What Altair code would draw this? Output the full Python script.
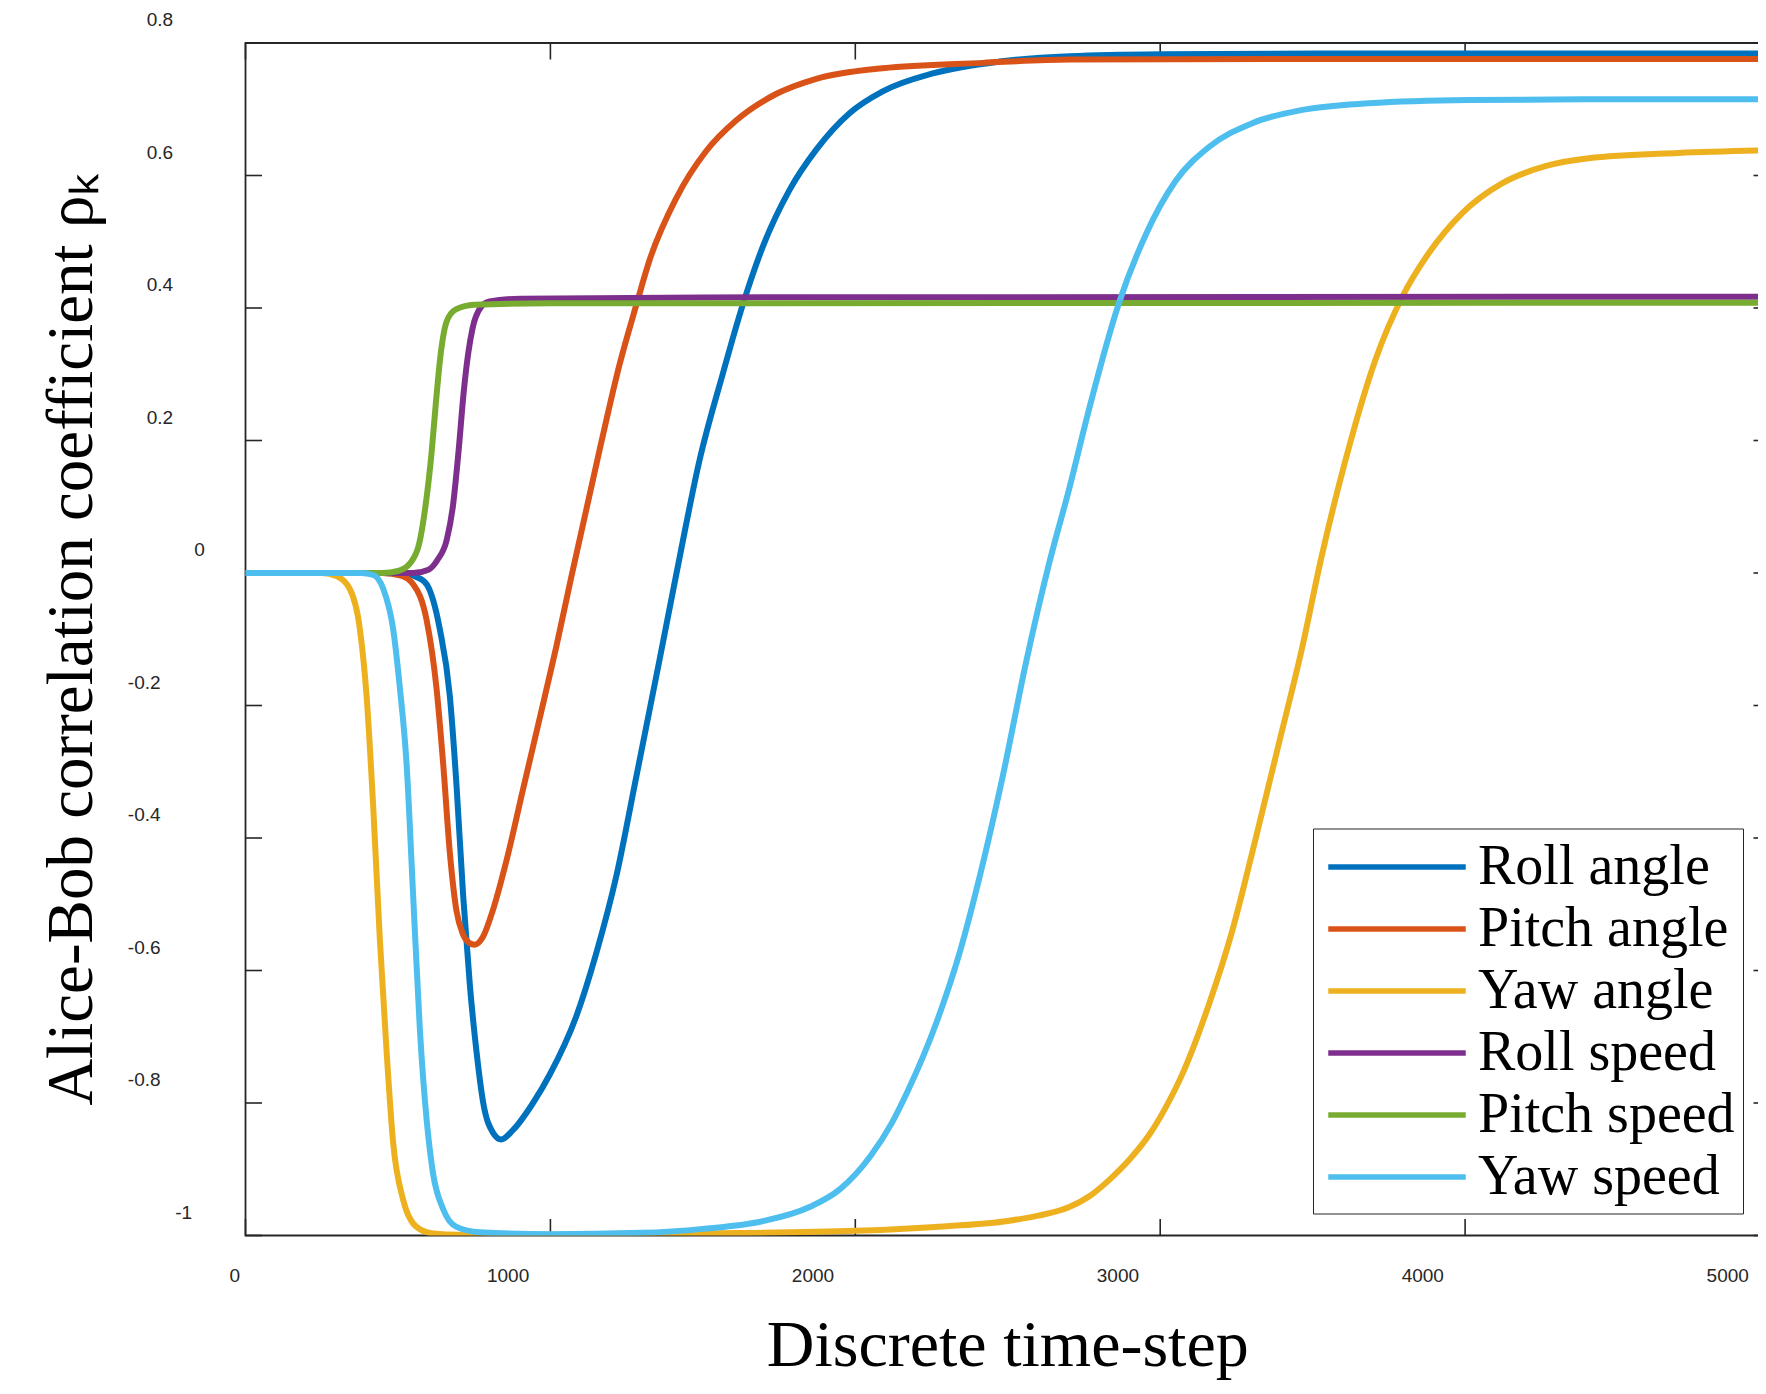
import altair as alt
import pandas as pd

series_names = ["Roll angle", "Pitch angle", "Yaw angle", "Roll speed", "Pitch speed", "Yaw speed"]
series_colors = ["#0072BD", "#D95319", "#EDB120", "#7E2F8E", "#77AC30", "#4DBEEE"]

roll_angle_x = [0, 450, 530, 561, 594, 637, 670, 692, 714, 736, 758, 779, 812, 839, 877, 943, 998,
                1085, 1151, 1216, 1282, 1358, 1418, 1489, 1565, 1631, 1697, 1784, 1872, 1981, 2090,
                2254, 2473, 2702, 3000, 3500, 4000, 5000]
roll_angle_y = [0, 0, -0.002, -0.006, -0.017, -0.084, -0.185, -0.32, -0.488, -0.623, -0.724, -0.798,
                -0.845, -0.855, -0.841, -0.800, -0.757, -0.669, -0.573, -0.458, -0.307, -0.131, 0.01,
                0.170, 0.300, 0.405, 0.493, 0.578, 0.639, 0.694, 0.727, 0.754, 0.772, 0.780, 0.783,
                0.784, 0.784, 0.784]

pitch_angle_x = [0, 450, 510, 550, 594, 626, 648, 670, 692, 713, 733, 752, 779, 812, 856, 910, 965,
                 1019, 1069, 1161, 1227, 1282, 1325, 1413, 1511, 1609, 1740, 1872, 2090, 2418, 2702,
                 3500, 5000]
pitch_angle_y = [0, 0, -0.004, -0.017, -0.071, -0.172, -0.286, -0.421, -0.51, -0.545, -0.558, -0.561,
                 -0.549, -0.508, -0.434, -0.327, -0.219, -0.112, -0.005, 0.185, 0.315, 0.405, 0.472,
                 0.566, 0.637, 0.683, 0.723, 0.746, 0.762, 0.770, 0.775, 0.776, 0.776]

yaw_angle_x = [0, 250, 300, 342, 375, 397, 419, 441, 463, 484, 517, 561, 615, 700, 1000, 1500, 2000,
               2300, 2500, 2600, 2702, 2770, 2833, 2900, 2964, 3020, 3073, 3160, 3237, 3313, 3390,
               3466, 3527, 3608, 3706, 3794, 3881, 3990, 4121, 4263, 4405, 4700, 5000]
yaw_angle_y = [0, 0, -0.005, -0.024, -0.084, -0.185, -0.354, -0.556, -0.724, -0.859, -0.946, -0.987,
               -0.997, -0.999, -0.999, -0.997, -0.993, -0.986, -0.978, -0.970, -0.957, -0.940, -0.916,
               -0.885, -0.848, -0.805, -0.756, -0.651, -0.539, -0.401, -0.256, -0.112, 0.02, 0.171,
               0.322, 0.417, 0.483, 0.543, 0.588, 0.614, 0.626, 0.634, 0.638]

roll_speed_x = [0, 550, 600, 630, 660, 680, 700, 715, 730, 745, 770, 800, 900, 1500, 5000]
roll_speed_y = [0, 0, 0.005, 0.02, 0.05, 0.1, 0.19, 0.27, 0.33, 0.37, 0.4, 0.41, 0.414, 0.416, 0.417]

pitch_speed_x = [0, 450, 500, 540, 570, 590, 610, 625, 640, 660, 690, 750, 1000, 5000]
pitch_speed_y = [0, 0, 0.003, 0.015, 0.045, 0.1, 0.18, 0.26, 0.33, 0.38, 0.398, 0.405, 0.407, 0.408]

yaw_speed_x = [0, 380, 419, 452, 484, 506, 528, 550, 572, 594, 615, 648, 692, 768, 1000, 1300, 1500,
               1700, 1850, 1950, 2050, 2120, 2172, 2265, 2341, 2407, 2483, 2560, 2636, 2702, 2767,
               2865, 2953, 3051, 3160, 3302, 3466, 3684, 4012, 4405, 5000]
yaw_speed_y = [0, 0, -0.003, -0.024, -0.084, -0.172, -0.286, -0.488, -0.69, -0.825, -0.906, -0.96,
               -0.987, -0.995, -0.998, -0.996, -0.99, -0.978, -0.957, -0.93, -0.88, -0.83, -0.782,
               -0.680, -0.575, -0.460, -0.308, -0.135, 0.015, 0.128, 0.248, 0.408, 0.511, 0.592, 0.643,
               0.679, 0.699, 0.709, 0.714, 0.715, 0.715]

x_ticks = [0, 1000, 2000, 3000, 4000, 5000]
x_tick_labels = ["0", "1000", "2000", "3000", "4000", "5000"]
y_ticks = [-1, -0.8, -0.6, -0.4, -0.2, 0, 0.2, 0.4, 0.6, 0.8]
y_tick_labels = ["-1", "-0.8", "-0.6", "-0.4", "-0.2", "0", "0.2", "0.4", "0.6", "0.8"]

x_title = "Discrete time-step"
y_title = "Alice-Bob correlation coefficient ρₖ"

all_x = [roll_angle_x, pitch_angle_x, yaw_angle_x, roll_speed_x, pitch_speed_x, yaw_speed_x]
all_y = [roll_angle_y, pitch_angle_y, yaw_angle_y, roll_speed_y, pitch_speed_y, yaw_speed_y]

rows = []
for name, xs, ys in zip(series_names, all_x, all_y):
    for xv, yv in zip(xs, ys):
        rows.append({"series": name, "step": xv, "rho": yv})
df = pd.DataFrame(rows)

W = 1524.5
H = 1192.5
TICK = 16.5
LABEL_SIZE = 19


def text_width(s):
    # approximate Arial/Liberation Sans advance widths (em units)
    return sum(0.556 if c.isdigit() else (0.278 if c == "." else 0.333) for c in s) * LABEL_SIZE


xscale = alt.Scale(domain=[0, 5000], nice=False, zero=False)
yscale = alt.Scale(domain=[-1, 0.8], nice=False, zero=False)

lines = alt.Chart(df).mark_line(strokeWidth=6, interpolate="monotone", clip=True).encode(
    x=alt.X("step:Q", scale=xscale, axis=None),
    y=alt.Y("rho:Q", scale=yscale, axis=None),
    color=alt.Color("series:N", sort=series_names,
                    scale=alt.Scale(domain=series_names, range=series_colors),
                    legend=alt.Legend(title=None, orient="none", legendX=1067.5, legendY=785.5,
                                      direction="vertical", symbolType="M-2.5,0H2.5",
                                      symbolSize=3025, symbolStrokeWidth=5.5, symbolOffset=45.5,
                                      labelFont="Liberation Serif", labelFontSize=56,
                                      labelColor="#000000", labelOffset=50.5, labelLimit=600,
                                      labelBaseline="middle", rowPadding=3, padding=8,
                                      fillColor="white", strokeColor="#262626")),
)

xt = pd.DataFrame({"xt": x_ticks, "lab": x_tick_labels})
yt = pd.DataFrame({"yt": y_ticks, "lab": y_tick_labels})
tick_kw = dict(color="#262626", strokeWidth=1.6)
lab_kw = dict(font="Liberation Sans", fontSize=LABEL_SIZE, color="#262626", baseline="middle")

top_ticks = alt.Chart(xt).mark_rule(**tick_kw).encode(
    x=alt.X("xt:Q", scale=xscale, axis=None), y=alt.value(0), y2=alt.value(TICK))
bottom_ticks = alt.Chart(xt).mark_rule(**tick_kw).encode(
    x=alt.X("xt:Q", scale=xscale, axis=None), y=alt.value(H), y2=alt.value(H - TICK))
left_ticks = alt.Chart(yt).mark_rule(**tick_kw).encode(
    y=alt.Y("yt:Q", scale=yscale, axis=None), x=alt.value(0), x2=alt.value(TICK))
right_ticks = alt.Chart(yt).mark_rule(**tick_kw).encode(
    y=alt.Y("yt:Q", scale=yscale, axis=None), x=alt.value(W), x2=alt.value(W - TICK))

# tick labels: in the reference each label is shifted away from its tick by about its own width
label_layers = []
for w in sorted({round(text_width(s), 1) for s in x_tick_labels}):
    group = [s for s in x_tick_labels if round(text_width(s), 1) == w]
    label_layers.append(
        alt.Chart(xt).transform_filter(alt.FieldOneOfPredicate(field="lab", oneOf=group))
        .mark_text(align="center", dx=-w, **lab_kw)
        .encode(x=alt.X("xt:Q", scale=xscale, axis=None), y=alt.value(H + 40.5), text="lab:N"))
for w in sorted({round(text_width(s), 1) for s in y_tick_labels}):
    group = [s for s in y_tick_labels if round(text_width(s), 1) == w]
    label_layers.append(
        alt.Chart(yt).transform_filter(alt.FieldOneOfPredicate(field="lab", oneOf=group))
        .mark_text(align="right", dx=-19.5 - 2 * w, dy=-23, **lab_kw)
        .encode(y=alt.Y("yt:Q", scale=yscale, axis=None), x=alt.value(0), text="lab:N"))

x_title_mark = alt.Chart(pd.DataFrame({"t": [x_title]})).mark_text(
    font="Liberation Serif", fontSize=66, color="#000000", align="center", baseline="alphabetic"
).encode(x=alt.value(W / 2), y=alt.value(H + 130), text="t:N")
y_title_mark = alt.Chart(pd.DataFrame({"t": [y_title]})).mark_text(
    font="Liberation Serif", fontSize=65, color="#000000", align="center", baseline="alphabetic",
    angle=270
).encode(x=alt.value(-153.5), y=alt.value(H / 2), text="t:N")

chart = alt.layer(top_ticks, bottom_ticks, left_ticks, right_ticks, *label_layers,
                  x_title_mark, y_title_mark, lines).properties(
    width=W, height=H,
    autosize=alt.AutoSizeParams(type="none"),
    padding={"left": 237.5, "top": 35, "right": -12, "bottom": 145.5},
    background="white",
).configure_view(stroke="#262626", strokeWidth=1.8)

chart.save("out.html", embed_options={"renderer": "svg", "actions": False})
